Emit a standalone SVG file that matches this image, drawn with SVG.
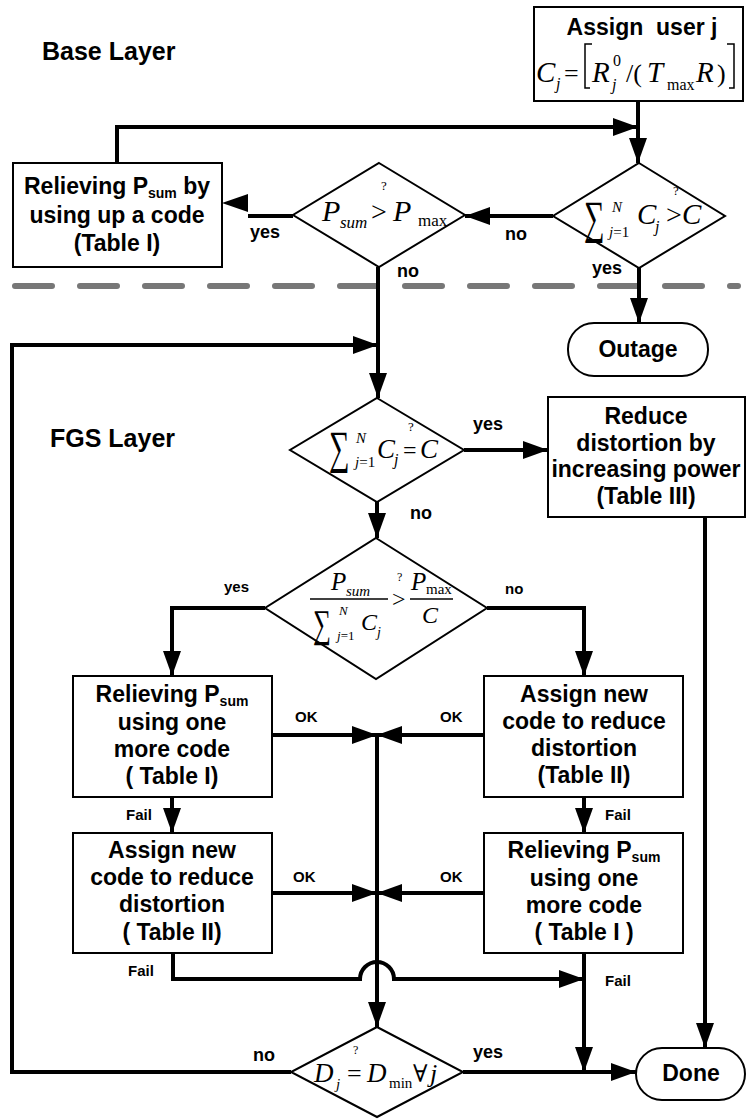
<svg xmlns="http://www.w3.org/2000/svg" width="749" height="1120" viewBox="0 0 749 1120">
<style>
.box{fill:#fff;stroke:#000;stroke-width:2}
.t{font-family:"Liberation Sans",Arial,sans-serif;font-weight:bold;font-size:23px;text-anchor:middle;fill:#000}
.sub{font-size:14px}
.lbl{font-family:"Liberation Sans",Arial,sans-serif;font-weight:bold;font-size:18px;fill:#000}
.sm{font-family:"Liberation Sans",Arial,sans-serif;font-weight:bold;font-size:15px;fill:#000}
.layer{font-family:"Liberation Sans",Arial,sans-serif;font-weight:bold;font-size:25px;fill:#000}
.m{font-family:"Liberation Serif","Times New Roman","DejaVu Serif",serif;fill:#000}
.i{font-style:italic}
.c{fill:none;stroke:#000;stroke-width:4}
.bar{stroke:#000;stroke-width:1.5}
</style>
<defs>
<marker id="ah" viewBox="0 0 25 18" refX="25" refY="9" markerWidth="25" markerHeight="18" markerUnits="userSpaceOnUse" orient="auto">
<path d="M0,0 L25,9 L0,18 z" fill="#000"/>
</marker>
</defs>
<rect width="749" height="1120" fill="#fff"/>

<text class="layer" x="42" y="60">Base Layer</text>
<text class="layer" x="50" y="447">FGS Layer</text>
<line x1="15" y1="286" x2="738" y2="286" stroke="#777" stroke-width="6" stroke-dasharray="37 28" stroke-linecap="round"/>

<g id="connectors">
<line class="c" x1="638" y1="101" x2="638" y2="163" marker-end="url(#ah)"/>
<path class="c" d="M117,163 V127 H638" marker-end="url(#ah)"/>
<line class="c" x1="553" y1="216" x2="465" y2="216" marker-end="url(#ah)"/>
<line class="c" x1="293" y1="216" x2="248" y2="216"/>
<polygon points="222,203 248,194 248,212" fill="#000"/>
<line class="c" x1="639" y1="268" x2="639" y2="323" marker-end="url(#ah)"/>
<line class="c" x1="378" y1="267" x2="378" y2="398" marker-end="url(#ah)"/>
<path class="c" d="M291,1072 H12 V345 H378" marker-end="url(#ah)"/>
<line class="c" x1="464" y1="450" x2="548" y2="450" marker-end="url(#ah)"/>
<line class="c" x1="377" y1="502" x2="377" y2="538" marker-end="url(#ah)"/>
<path class="c" d="M265,608 H172 V676" marker-end="url(#ah)"/>
<path class="c" d="M487,608 H584 V676" marker-end="url(#ah)"/>
<line class="c" x1="272" y1="735" x2="377" y2="735" marker-end="url(#ah)"/>
<line class="c" x1="484" y1="735" x2="377" y2="735" marker-end="url(#ah)"/>
<line class="c" x1="377" y1="735" x2="377" y2="1027" marker-end="url(#ah)"/>
<line class="c" x1="172" y1="797" x2="172" y2="833" marker-end="url(#ah)"/>
<line class="c" x1="584" y1="797" x2="584" y2="833" marker-end="url(#ah)"/>
<line class="c" x1="272" y1="893" x2="377" y2="893" marker-end="url(#ah)"/>
<line class="c" x1="484" y1="893" x2="377" y2="893" marker-end="url(#ah)"/>
<path class="c" d="M173,953 V979 H360 A17,17 0 0 1 394,979 H584" marker-end="url(#ah)"/>
<line class="c" x1="584" y1="953" x2="584" y2="1072" marker-end="url(#ah)"/>
<line class="c" x1="463" y1="1072" x2="636" y2="1072" marker-end="url(#ah)"/>
<line class="c" x1="705" y1="517" x2="705" y2="1048" marker-end="url(#ah)"/>

<text class="lbl" x="250" y="238">yes</text>
<text class="lbl" x="397" y="277">no</text>
<text class="lbl" x="505" y="240">no</text>
<text class="lbl" x="592" y="274">yes</text>
<text class="lbl" x="473" y="430">yes</text>
<text class="lbl" x="410" y="519">no</text>
<text class="sm" x="224" y="592">yes</text>
<text class="sm" x="505" y="594">no</text>
<text class="sm" x="295" y="722">OK</text>
<text class="sm" x="440" y="722">OK</text>
<text class="sm" x="126" y="820">Fail</text>
<text class="sm" x="605" y="820">Fail</text>
<text class="sm" x="293" y="882">OK</text>
<text class="sm" x="440" y="882">OK</text>
<text class="sm" x="128" y="976">Fail</text>
<text class="sm" x="605" y="986">Fail</text>
<text class="lbl" x="253" y="1061" font-size="19">no</text>
<text class="lbl" x="473" y="1058" font-size="19">yes</text>
</g>

<g id="n-assign-user">
<rect class="box" x="534" y="7" width="209" height="94"/>
<text class="t" x="642" y="35" font-size="24" xml:space="preserve">Assign  user j</text>
<text class="m i" x="536" y="82" font-size="29">C</text>
<text class="m i" x="556" y="89" font-size="16">j</text>
<text class="m" x="564" y="82" font-size="26">=</text>
<polyline points="590,88 585,88 585,44 592,44" fill="none" stroke="#000" stroke-width="1.5"/>
<text class="m i" x="592" y="82" font-size="29">R</text>
<text class="m" x="613" y="66" font-size="16">0</text>
<text class="m i" x="612" y="90" font-size="16">j</text>
<text class="m" x="626" y="82" font-size="26">/(</text>
<text class="m i" x="647" y="82" font-size="29">T</text>
<text class="m" x="667" y="90" font-size="16">max</text>
<text class="m i" x="696" y="82" font-size="29">R</text>
<text class="m" x="717" y="82" font-size="26">)</text>
<polyline points="727,44 734,44 734,88 729,88" fill="none" stroke="#000" stroke-width="1.5"/>
</g>

<g id="n-relieve-base">
<rect class="box" x="13" y="163" width="209" height="104"/>
<text class="t" x="117" y="194">Relieving P<tspan class="sub" dy="4">sum</tspan><tspan dy="-4"> by</tspan></text>
<text class="t" x="117" y="223">using up a code</text>
<text class="t" x="117" y="251">(Table I)</text>
</g>

<g id="d-psum">
<polygon class="box" points="379,163 465,215 379,267 293,215"/>
<text class="m i" x="322" y="221" font-size="30">P</text>
<text class="m i" x="340" y="228" font-size="17">sum</text>
<text class="m" x="371" y="221" font-size="28">&gt;</text>
<text class="m" x="381" y="190" font-size="13">?</text>
<text class="m i" x="393" y="221" font-size="30">P</text>
<text class="m" x="418" y="226" font-size="17">max</text>
</g>

<g id="d-sumC">
<polygon class="box" points="639,163 725,216 639,268 553,216"/>
<text class="m" transform="translate(584,233) scale(0.9,1.45)" font-size="32">∑</text>
<text class="m i" x="612" y="212" font-size="15">N</text>
<text class="m" x="609" y="237" font-size="15"><tspan font-style="italic">j</tspan>=1</text>
<text class="m i" x="637" y="224" font-size="29">C</text>
<text class="m i" x="655" y="232" font-size="16">j</text>
<text class="m" x="666" y="224" font-size="28">&gt;</text>
<text class="m" x="673" y="195" font-size="13">?</text>
<text class="m i" x="682" y="224" font-size="29">C</text>
</g>

<g id="n-outage">
<rect class="box" x="568" y="323" width="140" height="53" rx="26"/>
<text class="t" x="638" y="357">Outage</text>
</g>

<g id="d-fgs1">
<polygon class="box" points="377,398 464,450 377,502 290,450"/>
<text class="m" transform="translate(329,463) scale(0.9,1.45)" font-size="32">∑</text>
<text class="m i" x="356" y="443" font-size="15">N</text>
<text class="m" x="355" y="467" font-size="15"><tspan font-style="italic">j</tspan>=1</text>
<text class="m i" x="377" y="458" font-size="27">C</text>
<text class="m i" x="394" y="465" font-size="16">j</text>
<text class="m" x="403" y="458" font-size="24">=</text>
<text class="m" x="408" y="431" font-size="13">?</text>
<text class="m i" x="420" y="458" font-size="27">C</text>
</g>

<g id="n-reduce">
<rect class="box" x="548" y="397" width="197" height="120"/>
<text class="t" x="646" y="424">Reduce</text>
<text class="t" x="646" y="451">distortion by</text>
<text class="t" x="646" y="477">increasing power</text>
<text class="t" x="646" y="504">(Table III)</text>
</g>

<g id="d-ratio">
<polygon class="box" points="376,538 487,608 376,679 265,608"/>
<text class="m i" x="331" y="590" font-size="25">P</text>
<text class="m i" x="346" y="596" font-size="15">sum</text>
<line class="bar" x1="310" y1="599" x2="388" y2="599"/>
<text class="m" transform="translate(313,637) scale(0.9,1.4)" font-size="28">∑</text>
<text class="m i" x="339" y="615" font-size="13">N</text>
<text class="m" x="337" y="640" font-size="13"><tspan font-style="italic">j</tspan>=1</text>
<text class="m i" x="361" y="630" font-size="24">C</text>
<text class="m i" x="377" y="637" font-size="14">j</text>
<text class="m" x="392" y="607" font-size="24">&gt;</text>
<text class="m" x="397" y="581" font-size="12">?</text>
<text class="m i" x="411" y="590" font-size="25">P</text>
<text class="m" x="426" y="594" font-size="15">max</text>
<line class="bar" x1="410" y1="599" x2="453" y2="599"/>
<text class="m i" x="422" y="623" font-size="24">C</text>
</g>

<g id="n-relieve-1">
<rect class="box" x="73" y="676" width="199" height="121"/>
<text class="t" x="172" y="702">Relieving P<tspan class="sub" dy="4">sum</tspan></text>
<text class="t" x="172" y="730">using one</text>
<text class="t" x="172" y="757">more code</text>
<text class="t" x="172" y="784">( Table I)</text>
</g>

<g id="n-assign-1">
<rect class="box" x="484" y="676" width="199" height="121"/>
<text class="t" x="584" y="702">Assign new</text>
<text class="t" x="584" y="729">code to reduce</text>
<text class="t" x="584" y="756">distortion</text>
<text class="t" x="584" y="783">(Table II)</text>
</g>

<g id="n-assign-2">
<rect class="box" x="73" y="833" width="199" height="120"/>
<text class="t" x="172" y="858">Assign new</text>
<text class="t" x="172" y="885">code to reduce</text>
<text class="t" x="172" y="912">distortion</text>
<text class="t" x="172" y="940">( Table II)</text>
</g>

<g id="n-relieve-2">
<rect class="box" x="484" y="833" width="199" height="120"/>
<text class="t" x="584" y="858">Relieving P<tspan class="sub" dy="4">sum</tspan></text>
<text class="t" x="584" y="886">using one</text>
<text class="t" x="584" y="913">more code</text>
<text class="t" x="584" y="940">( Table I )</text>
</g>

<g id="d-dmin">
<polygon class="box" points="377,1027 463,1072 377,1117 291,1072"/>
<text class="m i" x="314" y="1082" font-size="27">D</text>
<text class="m i" x="336" y="1089" font-size="15">j</text>
<text class="m" x="347" y="1082" font-size="26">=</text>
<text class="m" x="353" y="1054" font-size="12">?</text>
<text class="m i" x="367" y="1082" font-size="27">D</text>
<text class="m" x="389" y="1088" font-size="15">min</text>
<text class="m" x="413" y="1082" font-size="24">∀</text>
<text class="m i" x="430" y="1082" font-size="26">j</text>
</g>

<g id="n-done">
<rect class="box" x="636" y="1048" width="109" height="52" rx="26"/>
<text class="t" x="691" y="1081">Done</text>
</g>
</svg>
